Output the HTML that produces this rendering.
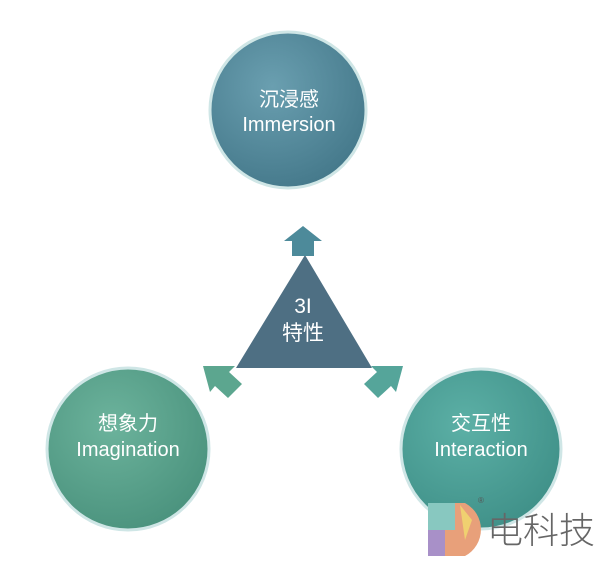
<!DOCTYPE html>
<html><head><meta charset="utf-8"><style>
body{margin:0;background:#fff;width:600px;height:565px;overflow:hidden;font-family:"Liberation Sans","Noto Sans CJK SC",sans-serif}
</style></head><body>
<svg width="600" height="565" viewBox="0 0 600 565" xmlns="http://www.w3.org/2000/svg">
<defs>
<radialGradient id="gt" cx="0.4" cy="0.35" r="0.7"><stop offset="0" stop-color="#6a9fb0"/><stop offset="1" stop-color="#44788a"/></radialGradient>
<radialGradient id="gl" cx="0.4" cy="0.35" r="0.7"><stop offset="0" stop-color="#6cb39c"/><stop offset="1" stop-color="#4a927d"/></radialGradient>
<radialGradient id="gr" cx="0.4" cy="0.35" r="0.7"><stop offset="0" stop-color="#5cb0a6"/><stop offset="1" stop-color="#3f9088"/></radialGradient>
</defs>
<g stroke="#cfe6e6" stroke-width="3">
<circle cx="288" cy="110" r="78" fill="url(#gt)"/>
<circle cx="128" cy="449" r="81" fill="url(#gl)"/>
<circle cx="481" cy="449" r="80" fill="url(#gr)"/>
</g>
<polygon points="305,255 236,368 372,368" fill="#4e6f83"/>
<polygon points="303,226 284,241 292,241 292,256 314,256 314,241 322,241" fill="#4d8a9a"/>
<polygon points="203,366 210,392 215,386 228,398 242,384 229,372 235,366" fill="#5ca68f"/>
<polygon points="403,366 396,392 391,386 378,398 364,384 377,372 371,366" fill="#55a59a"/>
<g fill="#fff" text-anchor="middle" font-size="20">
<text x="289" y="106">沉浸感</text>
<text x="289" y="131">Immersion</text>
<text x="128" y="430">想象力</text>
<text x="128" y="456">Imagination</text>
<text x="481" y="430">交互性</text>
<text x="481" y="456">Interaction</text>
<text x="303" y="313" font-size="21">3I</text>
<text x="303" y="340" font-size="21">特性</text>
</g>
<path d="M428 503 L428 556 L465 556 A30 30 0 0 0 465 503 Z" fill="#e8a07a"/>
<path d="M428 503 L455 503 L455 530 L428 530Z" fill="#88c8c0"/>
<path d="M428 530 L445 530 L445 556 L428 556Z" fill="#a890c8"/>
<path d="M460 505 L472 520 L465 540 Z" fill="#f0d070"/>
<text x="478" y="503" font-size="8" fill="#555">®</text>
<text x="487" y="543" font-size="36" fill="#666" font-family="'Noto Sans CJK SC',sans-serif" font-weight="300">电科技</text>
</svg>
</body></html>
